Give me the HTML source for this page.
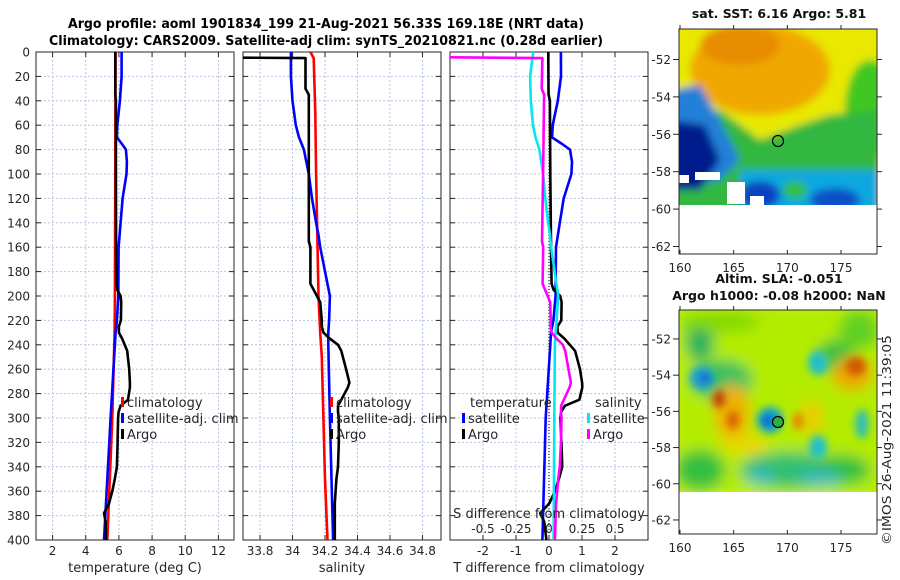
<!DOCTYPE html>
<html><head><meta charset="utf-8">
<style>
html,body{margin:0;padding:0;background:#fff;}
svg{display:block;font-family:"DejaVu Sans","Liberation Sans",sans-serif;}
</style></head>
<body>
<svg id="chart" width="900" height="580" viewBox="0 0 900 580" xmlns="http://www.w3.org/2000/svg">
<defs>
<clipPath id="clipT"><rect x="36" y="52" width="198" height="488"/></clipPath>
<clipPath id="clipS"><rect x="243" y="52" width="198" height="488"/></clipPath>
<clipPath id="clipD"><rect x="450" y="52" width="198" height="488"/></clipPath>
<clipPath id="clipM1"><rect x="679" y="29" width="198" height="183"/></clipPath>
<clipPath id="clipM2"><rect x="679" y="310" width="198" height="182"/></clipPath>
<filter id="blur3"><feGaussianBlur stdDeviation="4"/></filter>
<filter id="blur6"><feGaussianBlur stdDeviation="7"/></filter>
</defs>
<text x="326" y="28" text-anchor="middle" font-weight="bold" font-size="13" textLength="516" lengthAdjust="spacingAndGlyphs">Argo profile: aoml 1901834_199 21-Aug-2021 56.33S 169.18E (NRT data)</text>
<text x="326" y="45" text-anchor="middle" font-weight="bold" font-size="13" textLength="554" lengthAdjust="spacingAndGlyphs">Climatology: CARS2009. Satellite-adj clim: synTS_20210821.nc (0.28d earlier)</text>
<g id="panels"></g>
<g id="maps"></g>
<text transform="translate(891,440) rotate(-90)" text-anchor="middle" font-size="12" fill="#262626" textLength="210" lengthAdjust="spacingAndGlyphs">©IMOS 26-Aug-2021 11:39:05</text>
</svg>
<script>
// ---- profile data ----
const climDepth = [0, 5, 50, 100, 200, 230, 250, 300, 350, 400];
const climT     = [5.80, 5.80, 5.79, 5.78, 5.76, 5.74, 5.70, 5.60, 5.45, 5.30];
const climS     = [34.11, 34.13, 34.14, 34.145, 34.16, 34.17, 34.18, 34.19, 34.20, 34.215];

const satDepth = [0, 20, 40, 60, 70, 75, 80, 90, 100, 120, 140, 150, 160, 200, 220, 230, 240, 300, 400];
const satT     = [6.16, 6.16, 6.06, 5.90, 5.88, 6.16, 6.42, 6.48, 6.46, 6.22, 6.10, 6.04, 5.98, 5.96, 5.88, 5.80, 5.76, 5.50, 5.10];
const satS     = [33.99, 33.99, 34.00, 34.02, 34.04, 34.055, 34.07, 34.085, 34.10, 34.12, 34.145, 34.16, 34.17, 34.23, 34.225, 34.22, 34.22, 34.23, 34.25];

const argoDepth = [0, 4, 5, 30, 35, 40, 100, 155, 160, 190, 195, 200, 205, 220, 225, 230, 235, 240, 245, 260, 271, 275, 285, 290, 295, 300, 318, 320, 340, 350, 360, 370, 378, 385, 400];
const argoT     = [5.78, 5.78, 5.78, 5.78, 5.78, 5.82, 5.82, 5.83, 5.83, 5.84, 5.90, 6.10, 6.14, 6.12, 6.00, 6.00, 6.20, 6.35, 6.50, 6.62, 6.66, 6.66, 6.55, 6.10, 5.98, 5.95, 5.92, 5.92, 5.88, 5.75, 5.60, 5.40, 5.10, 5.20, 5.22];
const argoS     = [33.0, 33.0, 34.08, 34.08, 34.10, 34.10, 34.10, 34.10, 34.11, 34.11, 34.13, 34.15, 34.17, 34.18, 34.18, 34.19, 34.23, 34.28, 34.30, 34.33, 34.35, 34.34, 34.30, 34.28, 34.28, 34.285, 34.285, 34.285, 34.28, 34.27, 34.265, 34.26, 34.26, 34.26, 34.26];

const depthTicks = [0,20,40,60,80,100,120,140,160,180,200,220,240,260,280,300,320,340,360,380,400];
const tTicks = [2,4,6,8,10,12];
const sTicks = [33.8,34,34.2,34.4,34.6,34.8];
const sTickLabels = ["33.8","34","34.2","34.4","34.6","34.8"];
const dTicks = [-2,-1,0,1,2];
const sdTicks = [-0.5,-0.25,0,0.25,0.5];
const sdTickLabels = ["-0.5","-0.25","0","0.25","0.5"];
const lonTicks = [160,165,170,175];
const latTicks = [-52,-54,-56,-58,-60,-62];

const NS = "http://www.w3.org/2000/svg";
function mk(tag, attrs, parent){const e=document.createElementNS(NS,tag);for(const k in attrs)e.setAttribute(k,attrs[k]);if(parent)parent.appendChild(e);return e;}
function lin(d0,d1,r0,r1){return v=>r0+(v-d0)*(r1-r0)/(d1-d0);}
function interp(ds,vs,d){if(d<=ds[0])return vs[0];for(let i=1;i<ds.length;i++){if(d<=ds[i]){const f=(d-ds[i-1])/(ds[i]-ds[i-1]);return vs[i-1]+f*(vs[i]-vs[i-1]);}}return vs[vs.length-1];}

const yD = lin(0,400,52,540);
const xT = lin(1,13,36,235);
const xS = lin(33.695,34.914,243,441);
const xDT = lin(-3,3,450,648);
const xDS = lin(-0.75,0.75,450,648);

const panels = document.getElementById('panels');
const panelDefs = [
 {x:36, clip:'clipT', name:'temperature-panel'},
 {x:243, clip:'clipS', name:'salinity-panel'},
 {x:450, clip:'clipD', name:'difference-panel'}
];
panelDefs.forEach((p,pi)=>{
  const g = mk('g',{},panels);
  
  
  // grid
  depthTicks.forEach(d=>{
    const l = mk('line',{x1:p.x,x2:p.x+198,y1:yD(d),y2:yD(d),stroke:'#b8c4e4','stroke-dasharray':'2,2','stroke-width':1},g);
    
    
  });
  let vx = pi===0 ? tTicks.map(xT) : pi===1 ? sTicks.map(xS) : dTicks.map(xDT);
  vx.forEach(x=>{
    const l = mk('line',{x1:x,x2:x,y1:52,y2:540,stroke:'#b8c4e4','stroke-dasharray':'2,2','stroke-width':1},g);
    
    
    mk('line',{x1:x,x2:x,y1:540,y2:535,stroke:'#262626'},g);
    mk('line',{x1:x,x2:x,y1:52,y2:57,stroke:'#262626'},g);
  });
  depthTicks.forEach(d=>{
    mk('line',{x1:p.x,x2:p.x+5,y1:yD(d),y2:yD(d),stroke:'#262626'},g);
    mk('line',{x1:p.x+198,x2:p.x+193,y1:yD(d),y2:yD(d),stroke:'#262626'},g);
  });
  const fr = mk('rect',{x:p.x,y:52,width:198,height:488,fill:'none',stroke:'#262626','stroke-width':1},g);
  
  
});
// y tick labels
depthTicks.forEach(d=>{
  const t = mk('text',{x:30,y:yD(d)+4.5,'text-anchor':'end','font-size':12,fill:'#262626'},panels);
  t.textContent = d;
  
  
});
// x tick labels
tTicks.forEach(v=>{const t=mk('text',{x:xT(v),y:555,'text-anchor':'middle','font-size':12,fill:'#262626'},panels);t.textContent=v;
  
  });
sTicks.forEach((v,i)=>{const t=mk('text',{x:xS(v),y:555,'text-anchor':'middle','font-size':12,fill:'#262626'},panels);t.textContent=sTickLabels[i];
  
  });
dTicks.forEach(v=>{const t=mk('text',{x:xDT(v),y:555,'text-anchor':'middle','font-size':12,fill:'#262626'},panels);t.textContent=v;
  
  });
[['temperature (deg C)',135,'temperature-axis-title'],['salinity',342,'salinity-axis-title'],['T difference from climatology',549,'t-diff-axis-title']].forEach(a=>{
  const t=mk('text',{x:a[1],y:572,'text-anchor':'middle','font-size':13,fill:'#262626'},panels);t.textContent=a[0];
  
  
});

function series(ds, vs, xf, color, clip, name, w){
  const pts = ds.map((d,i)=>xf(vs[i]).toFixed(1)+','+yD(d).toFixed(1)).join(' ');
  const pl = mk('polyline',{points:pts,fill:'none',stroke:color,'stroke-width':w||2.6,'stroke-linejoin':'round','clip-path':'url(#'+clip+')'},panels);
  
  
}
// temperature panel
series(climDepth, climT, xT, '#ff0000', 'clipT', 'climatology-temperature-line');
series(satDepth, satT, xT, '#0000ff', 'clipT', 'satellite-temperature-line');
series(argoDepth, argoT, xT, '#000000', 'clipT', 'argo-temperature-line');
// salinity panel
series(climDepth, climS, xS, '#ff0000', 'clipS', 'climatology-salinity-line');
series(satDepth, satS, xS, '#0000ff', 'clipS', 'satellite-salinity-line');
series(argoDepth, argoS, xS, '#000000', 'clipS', 'argo-salinity-line');
// differences
const zl = mk('line',{x1:xDT(0),x2:xDT(0),y1:52,y2:540,stroke:'#555','stroke-dasharray':'1,2','stroke-width':1.5},panels);


series(satDepth, satT.map((v,i)=>v-interp(climDepth,climT,satDepth[i])), xDT, '#0000ff', 'clipD', 'satellite-t-diff-line');
series(argoDepth, argoT.map((v,i)=>v-interp(climDepth,climT,argoDepth[i])), xDT, '#000000', 'clipD', 'argo-t-diff-line');
series(satDepth, satS.map((v,i)=>v-interp(climDepth,climS,satDepth[i])), xDS, '#00e8f0', 'clipD', 'satellite-s-diff-line');
series(argoDepth, argoS.map((v,i)=>v-interp(climDepth,climS,argoDepth[i])), xDS, '#ff00ff', 'clipD', 'argo-s-diff-line');

// S diff axis inside panel
const sdt = mk('text',{x:549,y:518,'text-anchor':'middle','font-size':13,fill:'#262626'},panels);
sdt.textContent='S difference from climatology';


sdTicks.forEach((v,i)=>{const t=mk('text',{x:xDS(v),y:533,'text-anchor':'middle','font-size':12,fill:'#262626'},panels);t.textContent=sdTickLabels[i];
  
  });

// legends
function legendItem(x,y,color,label,name){
  const g=mk('g',{},panels);
  
  
  mk('rect',{x:x,y:y-10,width:3,height:10,fill:color},g);
  const t=mk('text',{x:x+6,y:y,'font-size':13,fill:'#262626'},g);t.textContent=label;
}
legendItem(121,407,'#ff0000','climatology','legend-climatology-t');
legendItem(121,423,'#0000ff','satellite-adj. clim','legend-satellite-t');
legendItem(121,439,'#000000','Argo','legend-argo-t');
legendItem(330,407,'#ff0000','climatology','legend-climatology-s');
legendItem(330,423,'#0000ff','satellite-adj. clim','legend-satellite-s');
legendItem(330,439,'#000000','Argo','legend-argo-s');
const lt=mk('text',{x:470,y:407,'font-size':13,fill:'#262626'},panels);lt.textContent='temperature';


const ls=mk('text',{x:595,y:407,'font-size':13,fill:'#262626'},panels);ls.textContent='salinity';


legendItem(462,423,'#0000ff','satellite','legend-satellite-tdiff');
legendItem(462,439,'#000000','Argo','legend-argo-tdiff');
legendItem(587,423,'#00e8f0','satellite','legend-satellite-sdiff');
legendItem(587,439,'#ff00ff','Argo','legend-argo-sdiff');

// ---- maps ----
const maps = document.getElementById('maps');
function mapAxes(top, bottom, latTop, latPerPx, name, titleLines){
  const g=mk('g',{},maps);
  
  
  const xL = lin(160,175,680,841);
  const yL = v=>top + (latTop - v)*latPerPx;
  mk('rect',{x:679,y:top,width:198,height:bottom-top,fill:'none',stroke:'#262626'},g);
  lonTicks.forEach(v=>{
    mk('line',{x1:xL(v),x2:xL(v),y1:bottom,y2:bottom-4,stroke:'#262626'},g);
    mk('line',{x1:xL(v),x2:xL(v),y1:top,y2:top-4,stroke:'#262626'},g);
    const t=mk('text',{x:xL(v),y:bottom+18,'text-anchor':'middle','font-size':12,fill:'#262626'},g);t.textContent=v;
    
    
  });
  latTicks.forEach(v=>{
    mk('line',{x1:679,x2:673,y1:yL(v),y2:yL(v),stroke:'#262626'},g);
    mk('line',{x1:877,x2:882,y1:yL(v),y2:yL(v),stroke:'#262626'},g);
    const t=mk('text',{x:671,y:yL(v)+4.5,'text-anchor':'end','font-size':12,fill:'#262626'},g);t.textContent=v;
    
    
  });
  titleLines.forEach((s,i)=>{
    const t=mk('text',{x:779,y:s[1],'text-anchor':'middle','font-size':12.5,'font-weight':'bold',fill:'#111'},g);t.textContent=s[0];
    
    
  });
  return {xL,yL};
}
</script>
<script>
// Top SST map image (approximate colour field)
(function(){
  const g=mk('g',{'clip-path':'url(#clipM1)'},maps);
  
  
  const b=mk('g',{filter:'url(#blur3)'},g);
  mk('rect',{x:670,y:20,width:220,height:200,fill:'#e8e800'},b);
  mk('ellipse',{cx:760,cy:70,rx:70,ry:45,fill:'#f0a800'},b);
  mk('ellipse',{cx:740,cy:45,rx:40,ry:20,fill:'#e88c00'},b);
  mk('ellipse',{cx:870,cy:110,rx:25,ry:50,fill:'#40c820'},b);
  mk('path',{d:'M670 120 L720 110 L760 140 L800 125 L830 115 L880 110 L880 220 L670 220 Z',fill:'#30b840'},b);
  mk('path',{d:'M670 90 L700 85 L720 120 L740 160 L720 180 L670 190 Z',fill:'#2080d8'},b);
  mk('path',{d:'M670 120 L705 125 L720 160 L700 190 L670 190 Z',fill:'#001c8c'},b);
  mk('rect',{x:740,y:170,width:140,height:45,fill:'#10a8e0'},b);
  mk('ellipse',{cx:760,cy:195,rx:20,ry:14,fill:'#1040c0'},b);
  mk('ellipse',{cx:835,cy:200,rx:25,ry:12,fill:'#1050c8'},b);
  mk('ellipse',{cx:795,cy:190,rx:12,ry:9,fill:'#30c040'},b);
  // white gaps
  mk('rect',{x:679,y:175,width:10,height:8,fill:'#fff'},g);
  mk('rect',{x:695,y:172,width:25,height:8,fill:'#fff'},g);
  mk('rect',{x:727,y:182,width:18,height:22,fill:'#fff'},g);
  mk('rect',{x:750,y:196,width:14,height:16,fill:'#fff'},g);
  mk('rect',{x:679,y:205,width:198,height:10,fill:'#fff'},g);
  const c=mk('circle',{cx:778,cy:141,r:5.5,fill:'none',stroke:'#000','stroke-width':1.2},maps);
  
  
  mapAxes(29,254,-50.37,18.7,'sst-map-axes',[['sat. SST: 6.16 Argo: 5.81',18]]);
})();
// Bottom SLA map
(function(){
  const g=mk('g',{'clip-path':'url(#clipM2)'},maps);
  
  
  const b=mk('g',{filter:'url(#blur6)'},g);
  mk('rect',{x:670,y:300,width:220,height:200,fill:'#b4ec00'},b);
  mk('ellipse',{cx:700,cy:340,rx:14,ry:22,fill:'#20b060'},b);
  mk('ellipse',{cx:722,cy:380,rx:30,ry:20,fill:'#30c060'},b);
  mk('ellipse',{cx:700,cy:470,rx:25,ry:20,fill:'#30c040'},b);
  mk('ellipse',{cx:790,cy:470,rx:50,ry:18,fill:'#30c070'},b);
  mk('ellipse',{cx:840,cy:470,rx:30,ry:15,fill:'#30c040'},b);
  mk('ellipse',{cx:835,cy:355,rx:18,ry:15,fill:'#30c040'},b);
  mk('ellipse',{cx:720,cy:322,rx:40,ry:10,fill:'#80d800'},b);
  mk('ellipse',{cx:859,cy:330,rx:20,ry:20,fill:'#60d020'},b);
  mk('ellipse',{cx:732,cy:412,rx:18,ry:28,fill:'#f0b000'},b);
  mk('ellipse',{cx:852,cy:374,rx:20,ry:16,fill:'#f0a000'},b);
  mk('ellipse',{cx:812,cy:418,rx:10,ry:18,fill:'#f0c800'},b);
  mk('ellipse',{cx:745,cy:445,rx:25,ry:10,fill:'#e8d800'},b);
  mk('ellipse',{cx:760,cy:476,rx:14,ry:8,fill:'#30b8c0'},b);
  mk('ellipse',{cx:820,cy:478,rx:22,ry:8,fill:'#30b8c0'},b);
  const s=mk('g',{filter:'url(#blur3)'},g);
  mk('ellipse',{cx:702,cy:378,rx:12,ry:12,fill:'#20a0d0'},s);
  mk('ellipse',{cx:705,cy:378,rx:5,ry:5,fill:'#1050d0'},s);
  mk('ellipse',{cx:770,cy:420,rx:13,ry:13,fill:'#10a0d0'},s);
  mk('ellipse',{cx:767,cy:421,rx:5,ry:5,fill:'#1040d0'},s);
  mk('ellipse',{cx:818,cy:363,rx:10,ry:12,fill:'#20c0c8'},s);
  mk('ellipse',{cx:818,cy:447,rx:9,ry:12,fill:'#20c0c8'},s);
  mk('ellipse',{cx:862,cy:424,rx:7,ry:15,fill:'#30c0b0'},s);
  mk('ellipse',{cx:719,cy:399,rx:6,ry:9,fill:'#c04000'},s);
  mk('ellipse',{cx:733,cy:420,rx:6,ry:9,fill:'#d86000'},s);
  mk('ellipse',{cx:856,cy:366,rx:10,ry:9,fill:'#d05800'},s);
  mk('ellipse',{cx:798,cy:421,rx:5,ry:9,fill:'#e88000'},s);
  const c=mk('circle',{cx:778,cy:422,r:5.5,fill:'#30b040',stroke:'#000','stroke-width':1.2},maps);
  
  
  mapAxes(310,534,-50.4,18.1,'sla-map-axes',[['Altim. SLA: -0.051',283],['Argo h1000: -0.08 h2000: NaN',300]]);
})();
</script>
</body></html>
